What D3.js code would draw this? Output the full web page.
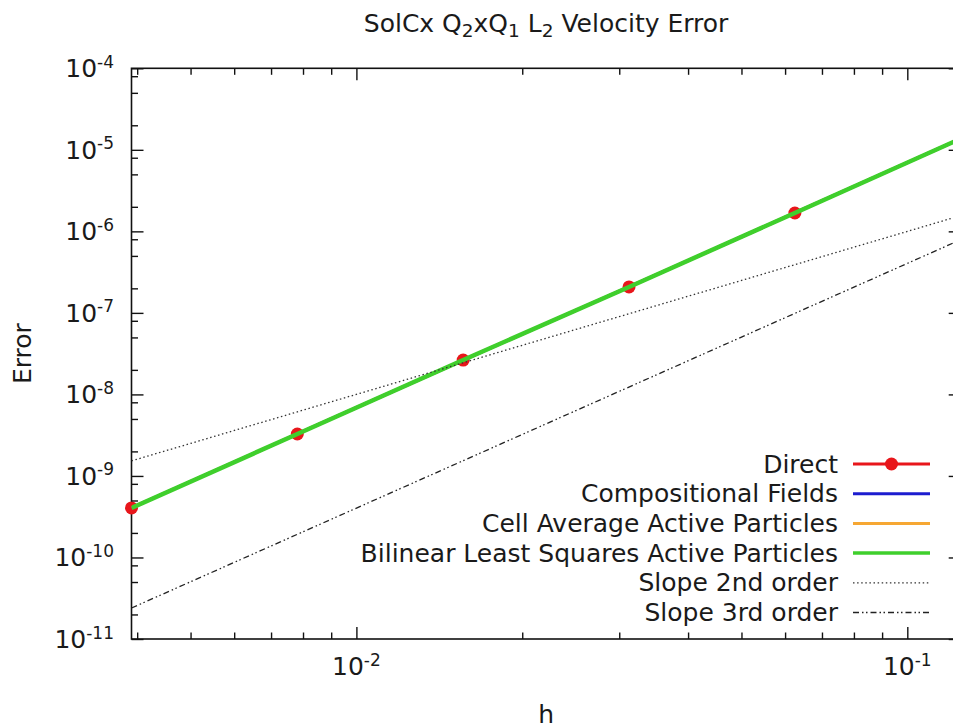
<!DOCTYPE html>
<html>
<head>
<meta charset="utf-8">
<script src="https://cdn.jsdelivr.net/npm/d3@7"></script>
<style>
	body { margin: 0; background: #fff; }
	svg { display: block; font-family: "DejaVu Sans", sans-serif; fill: #1a1a1a; }
</style>
</head>
<body>
<svg id="chart" width="953" height="728"></svg>
<script>
// mesh sizes h and L2 velocity errors
var hValues = [1/256, 1/128, 1/64, 1/32, 1/16, 1/8];
var directErr = [4.05e-10, 3.27e-9, 2.64e-8, 2.08e-7, 1.68e-6, 1.37e-5];
var compositionalErr = [4.05e-10, 3.27e-9, 2.64e-8, 2.08e-7, 1.68e-6, 1.37e-5];
var cellAverageErr = [4.05e-10, 3.27e-9, 2.64e-8, 2.08e-7, 1.68e-6, 1.37e-5];
var bilinearErr = [4.05e-10, 3.27e-9, 2.64e-8, 2.08e-7, 1.68e-6, 1.37e-5];

// reference slopes, end points only
var slopeH = [1/256, 1/8];
var slope2Err = [1.53e-9, 1.56e-6];
var slope3Err = [2.4e-11, 7.9e-7];

// ticks
var xMajorTicks = [1e-2, 1e-1];
var xTickExp = ["-2", "-1"];
var xMinorMult = [2, 3, 4, 5, 6, 7, 8, 9];
var yMajorTicks = [1e-11, 1e-10, 1e-9, 1e-8, 1e-7, 1e-6, 1e-5, 1e-4];
var yTickExp = ["-11", "-10", "-9", "-8", "-7", "-6", "-5", "-4"];
var yMinorMult = [2, 5, 8];

var legendLabels = ["Direct", "Compositional Fields", "Cell Average Active Particles",
	"Bilinear Least Squares Active Particles", "Slope 2nd order", "Slope 3rd order"];

function pairs(x, y) {
	return x.map(function(_, i) { return [x[i], y[i]]; });
}

function minorTicks(majors, mult, lo, hi) {
	var out = [];
	[1e-4, 1e-3, 1e-2, 1e-1].concat(majors).forEach(function(m) {
		mult.forEach(function(k) {
			var v = m * k;
			if (v > lo * 1.0001 && v < hi * 0.9999 && out.indexOf(v) < 0) out.push(v);
		});
	});
	return out;
}

var svg = d3.select("#chart");
var fontSize = 25, supSize = 17;
var plotLeft = 131.5, plotRight = 960.7, plotTop = 68.3, plotBottom = 639;

var x = d3.scaleLog().domain([1/256, 1/8]).range([plotLeft, plotRight]);
var y = d3.scaleLog().domain([1e-11, 1e-4]).range([plotBottom, plotTop]);

var series = [
	{ name: legendLabels[0], data: pairs(hValues, directErr), color: "#e8161b", width: 3, points: true },
	{ name: legendLabels[1], data: pairs(hValues, compositionalErr), color: "#1c1ccf", width: 3 },
	{ name: legendLabels[2], data: pairs(hValues, cellAverageErr), color: "#f6a733", width: 3 },
	{ name: legendLabels[3], data: pairs(hValues, bilinearErr), color: "#3fcf2c", width: 4.5 },
	{ name: legendLabels[4], data: pairs(slopeH, slope2Err), color: "#333", width: 1.3, dash: "1.5,2.6" },
	{ name: legendLabels[5], data: pairs(slopeH, slope3Err), color: "#222", width: 1.3, dash: "6,3,1.5,2.5,1.5,3" }
];

svg.append("defs").append("clipPath").attr("id", "plotClip")
	.append("rect")
	.attr("x", plotLeft).attr("y", plotTop)
	.attr("width", plotRight - plotLeft).attr("height", plotBottom - plotTop);

// frame first, so the point on the left border sits on top of it
svg.append("rect")
	.attr("x", plotLeft).attr("y", plotTop)
	.attr("width", plotRight - plotLeft).attr("height", plotBottom - plotTop)
	.attr("fill", "none").attr("stroke", "#111").attr("stroke-width", 1.6);

var line = d3.line()
	.x(function(d) { return x(d[0]); })
	.y(function(d) { return y(d[1]); });

var plot = svg.append("g");
series.forEach(function(s) {
	plot.append("path")
		.attr("clip-path", "url(#plotClip)")
		.attr("d", line(s.data))
		.attr("fill", "none")
		.attr("stroke", s.color)
		.attr("stroke-width", s.width)
		.attr("stroke-dasharray", s.dash || null);
	if (s.points) {
		plot.selectAll(null).data(s.data).enter().append("circle")
			.attr("cx", function(d) { return x(d[0]); })
			.attr("cy", function(d) { return y(d[1]); })
			.attr("r", 6.5)
			.attr("fill", s.color);
	}
});

// ticks pointing inward on all four sides
function tickAxis(axisFn, scale, values, size, pos) {
	var g = svg.append("g")
		.attr("transform", pos)
		.call(axisFn(scale).tickValues(values).tickSize(size).tickFormat(""));
	g.select(".domain").remove();
	g.selectAll(".tick line").attr("stroke", "#111").attr("stroke-width", 1.4);
	return g;
}
var xMinor = minorTicks(xMajorTicks, xMinorMult, 1/256, 1/8);
var yMinor = minorTicks(yMajorTicks, yMinorMult, 1e-11, 1e-4);
tickAxis(d3.axisBottom, x, xMajorTicks, -12, "translate(0," + plotBottom + ")");
tickAxis(d3.axisBottom, x, xMinor, -6.5, "translate(0," + plotBottom + ")");
tickAxis(d3.axisTop, x, xMajorTicks, -12, "translate(0," + plotTop + ")");
tickAxis(d3.axisTop, x, xMinor, -6.5, "translate(0," + plotTop + ")");
tickAxis(d3.axisLeft, y, yMajorTicks, -12, "translate(" + plotLeft + ",0)");
tickAxis(d3.axisLeft, y, yMinor, -6.5, "translate(" + plotLeft + ",0)");
tickAxis(d3.axisRight, y, yMajorTicks, -12, "translate(" + plotRight + ",0)");
tickAxis(d3.axisRight, y, yMinor, -6.5, "translate(" + plotRight + ",0)");

// tick labels, 10 with a raised exponent
function powerLabel(g, exp) {
	g.append("tspan").text("10");
	g.append("tspan").attr("dy", -9.5).attr("font-size", supSize).text(exp);
}
svg.append("g").selectAll("text").data(xMajorTicks).enter().append("text")
	.attr("x", function(d) { return x(d); })
	.attr("y", 675)
	.attr("text-anchor", "middle")
	.attr("font-size", fontSize)
	.each(function(d, i) { powerLabel(d3.select(this), xTickExp[i]); });
svg.append("g").selectAll("text").data(yMajorTicks).enter().append("text")
	.attr("x", 114)
	.attr("y", function(d) { return y(d) + 9; })
	.attr("text-anchor", "end")
	.attr("font-size", fontSize)
	.each(function(d, i) { powerLabel(d3.select(this), yTickExp[i]); });

// title with subscripts
var title = svg.append("text")
	.attr("x", (plotLeft + plotRight) / 2)
	.attr("y", 32)
	.attr("text-anchor", "middle")
	.attr("font-size", fontSize);
[["SolCx Q", 0], ["2", 1], ["xQ", 0], ["1", 1], [" L", 0], ["2", 1], [" Velocity Error", 0]]
	.forEach(function(p, i, all) {
		var prevSub = i > 0 && all[i - 1][1];
		title.append("tspan")
			.attr("dy", p[1] ? 4.5 : (prevSub ? -4.5 : 0))
			.attr("font-size", p[1] ? 18.5 : null)
			.text(p[0]);
	});

svg.append("text")
	.attr("x", (plotLeft + plotRight) / 2)
	.attr("y", 723)
	.attr("text-anchor", "middle")
	.attr("font-size", fontSize)
	.text("h");
svg.append("text")
	.attr("transform", "translate(31," + ((plotTop + plotBottom) / 2) + ") rotate(-90)")
	.attr("text-anchor", "middle")
	.attr("font-size", fontSize)
	.text("Error");

// legend, bottom right inside the frame
var legend = svg.append("g");
series.forEach(function(s, i) {
	var ry = 464 + i * 29.7;
	legend.append("text")
		.attr("x", 838)
		.attr("y", ry + 8.5)
		.attr("text-anchor", "end")
		.attr("font-size", fontSize)
		.text(s.name);
	legend.append("line")
		.attr("x1", 853).attr("x2", 930)
		.attr("y1", ry).attr("y2", ry)
		.attr("stroke", s.color)
		.attr("stroke-width", s.width === 4.5 ? 3.5 : s.width)
		.attr("stroke-dasharray", s.dash || null);
	if (s.points) {
		legend.append("circle")
			.attr("cx", 891.5).attr("cy", ry).attr("r", 6.5)
			.attr("fill", s.color);
	}
});
</script>
</body>
</html>
